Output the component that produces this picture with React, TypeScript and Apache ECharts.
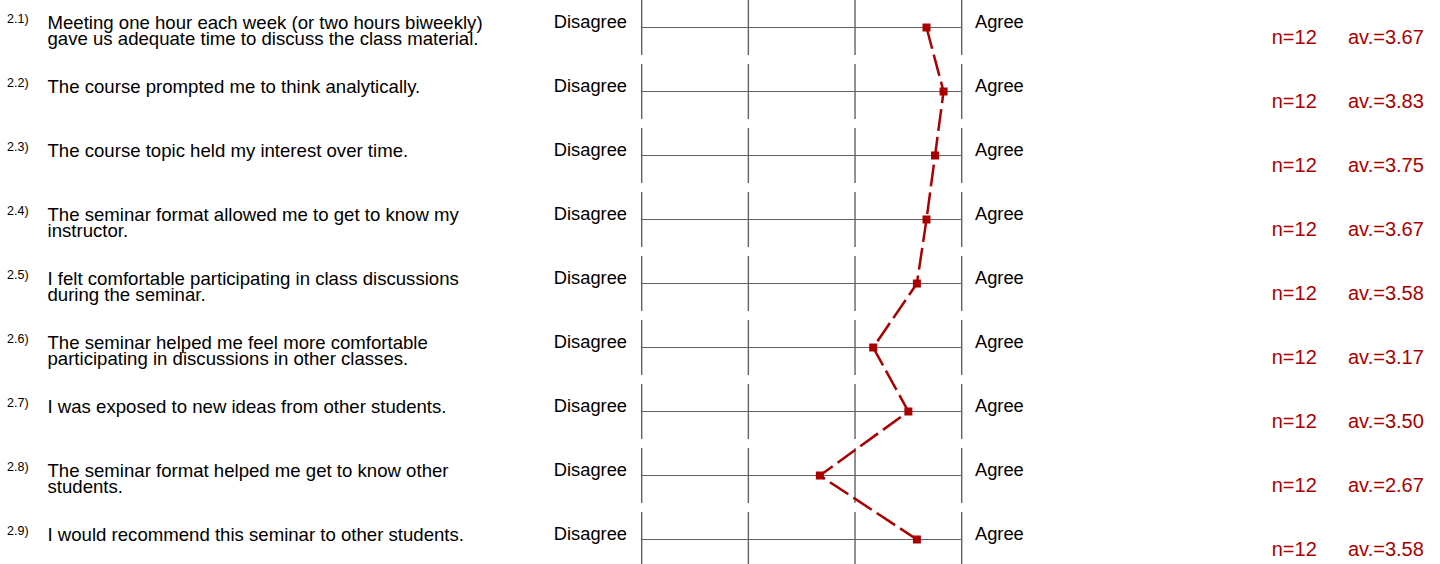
import React, { useEffect, useRef } from "react";
import * as echarts from "echarts";

const itemNumbers = ["2.1)", "2.2)", "2.3)", "2.4)", "2.5)", "2.6)", "2.7)", "2.8)", "2.9)"];
const questions = [
  "Meeting one hour each week (or two hours biweekly)\ngave us adequate time to discuss the class material.",
  "The course prompted me to think analytically.",
  "The course topic held my interest over time.",
  "The seminar format allowed me to get to know my\ninstructor.",
  "I felt comfortable participating in class discussions\nduring the seminar.",
  "The seminar helped me feel more comfortable\nparticipating in discussions in other classes.",
  "I was exposed to new ideas from other students.",
  "The seminar format helped me get to know other\nstudents.",
  "I would recommend this seminar to other students.",
];
const scaleTicks = [1, 2, 3, 4];
const leftPole = "Disagree";
const rightPole = "Agree";
const counts = [12, 12, 12, 12, 12, 12, 12, 12, 12];
const averages = [3.67, 3.83, 3.75, 3.67, 3.58, 3.17, 3.5, 2.67, 3.58];

export default function App() {
  const ref = useRef<HTMLDivElement>(null);
  useEffect(() => {
    const chart = echarts.init(ref.current!, null, { renderer: "svg" });
    const FONT = "'Liberation Sans', Arial, Helvetica, sans-serif";
    const RED = "#aa0000";
    const GRID = "#626262";
    const rows = questions.map((_, i) => [1, i]);

    chart.setOption({
      animation: false,
      grid: { left: 641.7, right: 1440 - 961.7, top: 0, bottom: 0 },
      xAxis: { type: "value", min: 1, max: 4, show: false },
      yAxis: {
        type: "value",
        min: -27.5 / 64,
        max: (564 - 27.5) / 64,
        inverse: true,
        show: false,
      },
      series: [
        {
          type: "custom",
          silent: true,
          clip: false,
          encode: { x: 0, y: 1 },
          data: rows,
          z: 1,
          renderItem: (params: any, api: any) => {
            const i = api.value(1);
            const pitch = api.size([0, 1])[1];
            const half = pitch * 0.43;
            const [x1, c] = api.coord([scaleTicks[0], i]);
            const [x4] = api.coord([scaleTicks[scaleTicks.length - 1], i]);
            const children: any[] = [
              {
                type: "line",
                shape: { x1, y1: c, x2: x4, y2: c },
                style: { stroke: GRID, lineWidth: 1.2 },
              },
            ];
            scaleTicks.forEach((t) => {
              const [xt] = api.coord([t, i]);
              children.push({
                type: "line",
                shape: { x1: xt, y1: c - half, x2: xt, y2: c + half },
                style: { stroke: GRID, lineWidth: 1.4 },
              });
            });
            return { type: "group", children };
          },
        },
        {
          type: "custom",
          silent: true,
          clip: false,
          encode: { x: 0, y: 1 },
          data: rows,
          z: 3,
          renderItem: (params: any, api: any) => {
            const i = api.value(1);
            const [x1, c] = api.coord([scaleTicks[0], i]);
            const [x4] = api.coord([scaleTicks[scaleTicks.length - 1], i]);
            const base = { fontFamily: FONT };
            return {
              type: "group",
              children: [
                {
                  type: "text",
                  x: 7,
                  y: c - 8.3,
                  style: { ...base, text: itemNumbers[i], fontSize: 12.5, fill: "#000", align: "left", verticalAlign: "middle" },
                },
                {
                  type: "text",
                  x: 47.5,
                  y: c - 13,
                  style: { ...base, text: questions[i], fontSize: 18.6, lineHeight: 16, fill: "#000", align: "left", verticalAlign: "top" },
                },
                {
                  type: "text",
                  x: x1 - 14.7,
                  y: c - 6,
                  style: { ...base, text: leftPole, fontSize: 18.3, fill: "#000", align: "right", verticalAlign: "middle" },
                },
                {
                  type: "text",
                  x: x4 + 13.3,
                  y: c - 6,
                  style: { ...base, text: rightPole, fontSize: 18.3, fill: "#000", align: "left", verticalAlign: "middle" },
                },
                {
                  type: "text",
                  x: 1271.7,
                  y: c + 9,
                  style: { ...base, text: `n=${counts[i]}`, fontSize: 20, fill: RED, align: "left", verticalAlign: "middle" },
                },
                {
                  type: "text",
                  x: 1348,
                  y: c + 9,
                  style: { ...base, text: `av.=${averages[i].toFixed(2)}`, fontSize: 20, fill: RED, align: "left", verticalAlign: "middle" },
                },
              ],
            };
          },
        },
        {
          type: "line",
          silent: true,
          z: 5,
          data: averages.map((v, i) => [v, i]),
          symbol: "rect",
          symbolSize: 8,
          itemStyle: { color: RED },
          lineStyle: { color: RED, width: 2.5, type: [22, 6] },
        },
      ],
    });
    return () => chart.dispose();
  }, []);
  return (
    <div
      ref={ref}
      style={{ position: "absolute", left: 0, top: 0, width: 1440, height: 564, background: "#fff" }}
    />
  );
}
